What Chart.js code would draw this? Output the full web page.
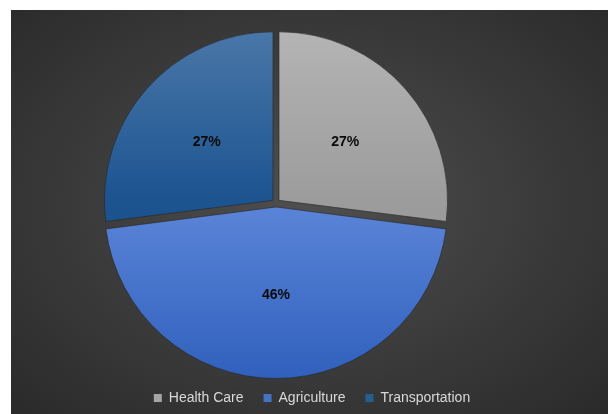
<!DOCTYPE html>
<html><head><meta charset="utf-8">
<script src="https://cdn.jsdelivr.net/npm/chart.js@4/dist/chart.umd.min.js"></script>
<style>
html,body{margin:0;padding:0;background:#ffffff;}
#wrap{position:absolute;left:11px;top:10px;width:597px;height:404px;
  background:radial-gradient(ellipse farthest-corner at 50% 48%, #4f4f4f 0%, #3c3c3c 50%, #2a2a2a 100%);}
canvas{display:block;}
</style></head><body>
<div id="wrap"><canvas id="c" width="597" height="404"></canvas></div>
<script>
// ---- data ----
const categories = ['Health Care', 'Agriculture', 'Transportation'];
const values = [27, 46, 27];

// ---- styles ----
const legendColors = ['#a5a5a5', '#4472c4', '#255e91'];
const sliceStops = [
  [[0, '#b5b5b5'], [0.5, '#9c9c9c'], [1, '#939393']],
  [[0, '#628be0'], [0.5, '#5a84d7'], [1, '#2f5fbc']],
  [[0, '#4c78a9'], [0.5, '#1c5490'], [1, '#164a85']]
];

function sliceFill(ctx) {
  const ch = ctx.chart, a = ch.chartArea, i = ctx.dataIndex;
  if (!a || i === undefined) return legendColors[i || 0];
  const g = ch.ctx.createLinearGradient(0, a.top, 0, a.bottom);
  sliceStops[i].forEach(s => g.addColorStop(s[0], s[1]));
  return g;
}

const shiftLegend = {
  id: 'shiftLegend',
  afterLayout(chart) {
    const lg = chart.legend; if (!lg) return;
    const dx = 36, dy = -9;
    lg.left += dx; lg.right += dx; lg.top += dy; lg.bottom += dy;
  }
};

const pctLabels = {
  id: 'pctLabels',
  afterDatasetsDraw(chart) {
    const c = chart.ctx, meta = chart.getDatasetMeta(0);
    const total = values.reduce((a, b) => a + b, 0);
    c.save();
    c.font = 'bold 14px "Liberation Sans", Arial, sans-serif';
    c.fillStyle = '#0a0a0a';
    c.textAlign = 'center';
    c.textBaseline = 'middle';
    meta.data.forEach((arc, i) => {
      const p = arc.tooltipPosition();
      c.fillText(Math.round(values[i] / total * 100) + '%', p.x, p.y);
    });
    c.restore();
  }
};

new Chart(document.getElementById('c'), {
  type: 'pie',
  data: {
    labels: categories,
    datasets: [{
      data: values,
      backgroundColor: sliceFill,
      borderColor: 'rgba(38,38,38,0.6)',
      borderWidth: 1,
      offset: 16
    }]
  },
  options: {
    responsive: false,
    animation: false,
    layout: { padding: { left: 0, right: 67, top: 16, bottom: -10 } },
    plugins: {
      tooltip: { enabled: false },
      legend: {
        position: 'bottom',
        labels: {
          color: '#d9d9d9',
          font: { family: '"Liberation Sans", Arial, sans-serif', size: 14 },
          boxWidth: 8,
          boxHeight: 8,
          padding: 20,
          generateLabels: () => categories.map((t, i) => ({
            text: t, fillStyle: legendColors[i], strokeStyle: legendColors[i],
            lineWidth: 0, hidden: false, index: i, fontColor: '#d9d9d9'
          }))
        }
      }
    }
  },
  plugins: [shiftLegend, pctLabels]
});
</script>
</body></html>
